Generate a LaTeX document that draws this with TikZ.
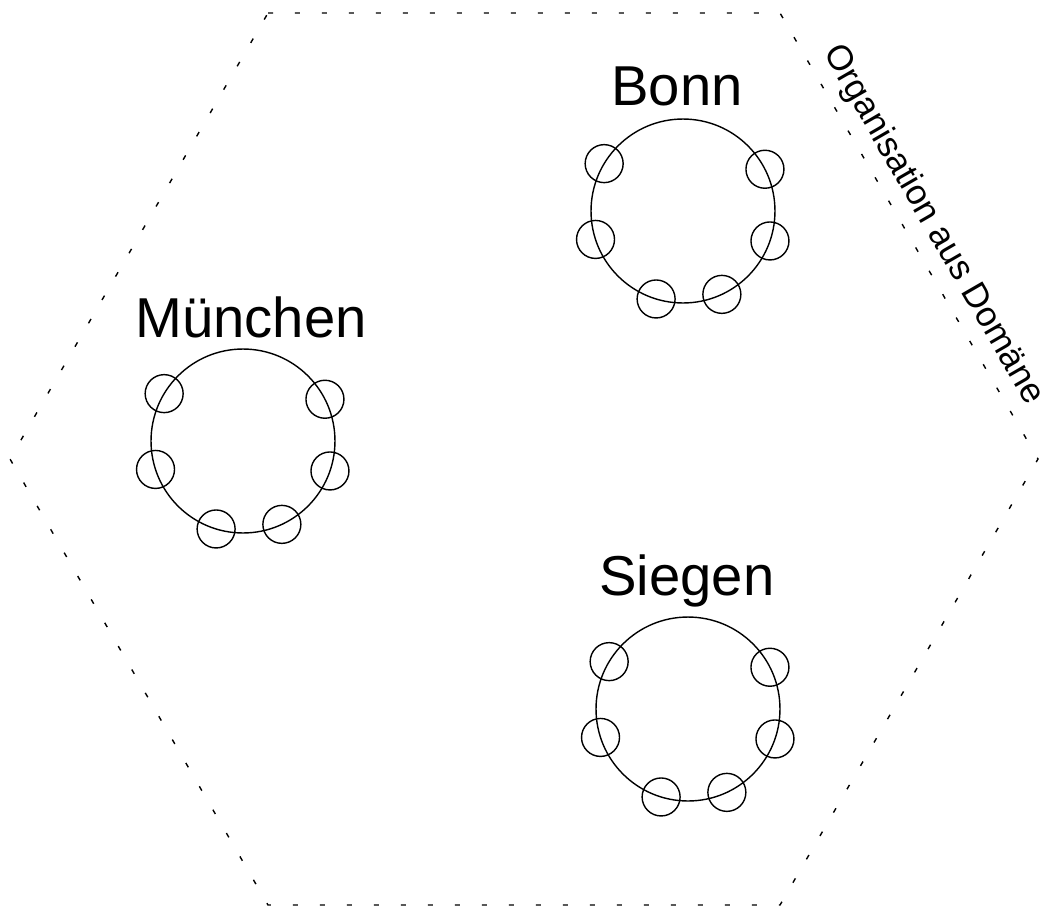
\documentclass[tikz,border=0pt]{standalone}
\usepackage{fontspec}
\setmainfont{Liberation Sans}
\usepackage{tikz}
\tikzset{
    sitering/.style={circle, draw, minimum size=3.68cm, inner sep=0pt,
    	outer sep=0pt, line width=0.8pt}
}
\tikzset{
    hostring/.style={circle, draw, minimum size=0.76cm, inner sep=0pt,
    	line width=0.8pt}
}
\tikzset{
    sitename/.style={anchor=base, font=\fontsize{32}{38}\selectfont}
}
\tikzset{
	hexline/.style={line width=0.8pt, dash pattern=on 0.1cm off 0.44cm}
}

\begin{document}
\begin{tikzpicture}[x=0.02cm, y=-0.02cm]
  \useasboundingbox (0,0) rectangle (1049,907);

  % the domain
  \coordinate (tl) at (268,13);
  \coordinate (tr) at (780,13);
  \coordinate (r) at (1038,459);
  \coordinate (br) at (780,905);
  \coordinate (bl) at (268,905);
  \coordinate (l) at (10,459);
  \draw [hexline] (tl) -- (tr) -- (r) -- (br) -- (bl) -- (l) -- cycle;
  \node (org) [rotate=-60, font=\fontsize{20}{24}\selectfont] at (933,225) {Organisation aus Domäne};

  % sites
  \node (bonn) [sitering] at (683,211) {};
  \node (muenchen) [sitering] at (243,441) {};
  \node (siegen) [sitering] at (688,709) {};

  \node (bonnname) [sitename] at (677,105) {Bonn};
  \node (muenchenname) [sitename] at (251,337) {München};
  \node (siegenname) [sitename] at (687,595) {Siegen};

  % hosts
  \node (b1) [hostring] at (bonn.149) {};
  \node (b2) [hostring] at (bonn.27) {};
  \node (b3) [hostring] at (bonn.198) {};
  \node (b4) [hostring] at (bonn.-19) {};
  \node (b5) [hostring] at (bonn.253) {};
  \node (b6) [hostring] at (bonn.-65) {};

  \node (m1) [hostring] at (muenchen.149) {};
  \node (m2) [hostring] at (muenchen.27) {};
  \node (m3) [hostring] at (muenchen.198) {};
  \node (m4) [hostring] at (muenchen.-19) {};
  \node (m5) [hostring] at (muenchen.253) {};
  \node (m6) [hostring] at (muenchen.-65) {};

  \node (s1) [hostring] at (siegen.149) {};
  \node (s2) [hostring] at (siegen.27) {};
  \node (s3) [hostring] at (siegen.198) {};
  \node (s4) [hostring] at (siegen.-19) {};
  \node (s5) [hostring] at (siegen.253) {};
  \node (s6) [hostring] at (siegen.-65) {};
\end{tikzpicture}
\end{document}
